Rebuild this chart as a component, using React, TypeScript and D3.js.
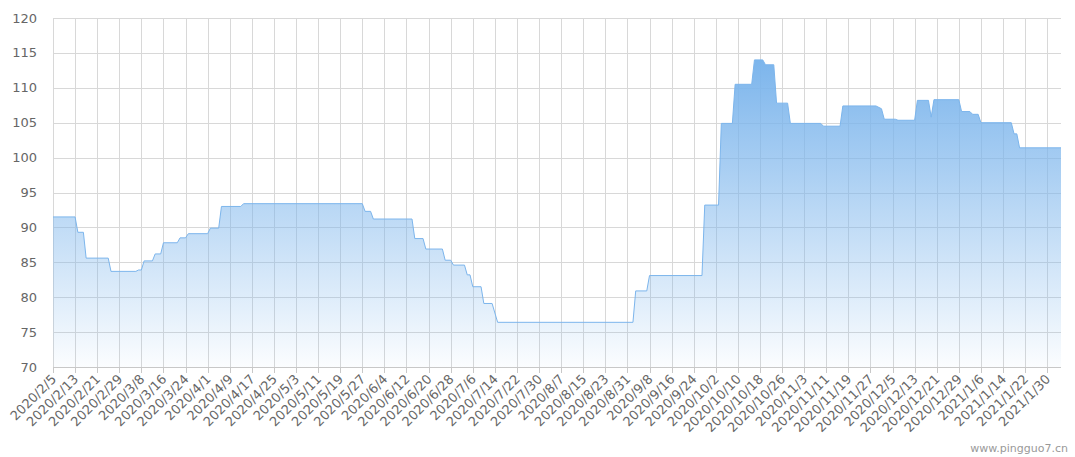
import * as d3 from "d3";
import { useEffect, useRef } from "react";

// change points of the daily price series (value holds between consecutive points)
const DATES = [
  "2020-02-05", "2020-02-13", "2020-02-14", "2020-02-16", "2020-02-17", "2020-02-25",
  "2020-02-26", "2020-03-06", "2020-03-07", "2020-03-08", "2020-03-09", "2020-03-12",
  "2020-03-13", "2020-03-15", "2020-03-16", "2020-03-21", "2020-03-22", "2020-03-24",
  "2020-03-25", "2020-04-01", "2020-04-02", "2020-04-05", "2020-04-06", "2020-04-13",
  "2020-04-14", "2020-05-27", "2020-05-28", "2020-05-30", "2020-05-31", "2020-06-14",
  "2020-06-15", "2020-06-18", "2020-06-19", "2020-06-25", "2020-06-26", "2020-06-28",
  "2020-06-29", "2020-07-03", "2020-07-04", "2020-07-05", "2020-07-06", "2020-07-09",
  "2020-07-10", "2020-07-13", "2020-07-15", "2020-09-02", "2020-09-03", "2020-09-07",
  "2020-09-08", "2020-09-27", "2020-09-28", "2020-10-03", "2020-10-04", "2020-10-08",
  "2020-10-09", "2020-10-15", "2020-10-16", "2020-10-19", "2020-10-20", "2020-10-23",
  "2020-10-24", "2020-10-28", "2020-10-29", "2020-11-09", "2020-11-10", "2020-11-16",
  "2020-11-17", "2020-11-29", "2020-12-01", "2020-12-02", "2020-12-06", "2020-12-07",
  "2020-12-13", "2020-12-14", "2020-12-18", "2020-12-19", "2020-12-20", "2020-12-29",
  "2020-12-30", "2021-01-02", "2021-01-03", "2021-01-05", "2021-01-06", "2021-01-17",
  "2021-01-18", "2021-01-19", "2021-01-20", "2021-02-04",
];
const PRICES = [
  91.5, 91.5, 89.3, 89.3, 85.6, 85.6,
  83.7, 83.7, 83.9, 83.9, 85.2, 85.2,
  86.2, 86.2, 87.8, 87.8, 88.5, 88.5,
  89.1, 89.1, 89.9, 89.9, 93.0, 93.0,
  93.4, 93.4, 92.3, 92.3, 91.2, 91.2,
  88.4, 88.4, 86.9, 86.9, 85.3, 85.3,
  84.6, 84.6, 83.2, 83.2, 81.5, 81.5,
  79.1, 79.1, 76.4, 76.4, 80.9, 80.9,
  83.1, 83.1, 93.2, 93.2, 104.9, 104.9,
  110.5, 110.5, 114.0, 114.0, 113.3, 113.3,
  107.8, 107.8, 104.9, 104.9, 104.5, 104.5,
  107.4, 107.4, 107.0, 105.5, 105.5, 105.35,
  105.35, 108.2, 108.2, 105.8, 108.3, 108.3,
  106.6, 106.6, 106.2, 106.2, 105.0, 105.0,
  103.4, 103.4, 101.4, 101.4,
];

const Y_TICKS = [70, 75, 80, 85, 90, 95, 100, 105, 110, 115, 120];
const X_TICK_LABELS = [
  "2020/2/5", "2020/2/13", "2020/2/21", "2020/2/29", "2020/3/8", "2020/3/16",
  "2020/3/24", "2020/4/1", "2020/4/9", "2020/4/17", "2020/4/25", "2020/5/3",
  "2020/5/11", "2020/5/19", "2020/5/27", "2020/6/4", "2020/6/12", "2020/6/20",
  "2020/6/28", "2020/7/6", "2020/7/14", "2020/7/22", "2020/7/30", "2020/8/7",
  "2020/8/15", "2020/8/23", "2020/8/31", "2020/9/8", "2020/9/16", "2020/9/24",
  "2020/10/2", "2020/10/10", "2020/10/18", "2020/10/26", "2020/11/3", "2020/11/11",
  "2020/11/19", "2020/11/27", "2020/12/5", "2020/12/13", "2020/12/21", "2020/12/29",
  "2021/1/6", "2021/1/14", "2021/1/22", "2021/1/30",
];

const W = 1075;
const H = 457;
const FONT = "'DejaVu Sans', Verdana, sans-serif";

export default function App() {
  const svgRef = useRef<SVGSVGElement>(null);

  useEffect(() => {
    document.body.style.margin = "0";
    const svg = d3.select(svgRef.current);
    svg.selectAll("*").remove();

    const margin = { top: 18, right: 14, bottom: 90, left: 53 };
    const parse = d3.utcParse("%Y-%m-%d");
    const parseTick = d3.utcParse("%Y/%m/%d");
    const data = DATES.map((d, i) => ({ date: parse(d) as Date, value: PRICES[i] }));
    const ticks = X_TICK_LABELS.map((t) => ({ label: t, date: parseTick(t) as Date }));

    const x = d3
      .scaleUtc()
      .domain([data[0].date, data[data.length - 1].date])
      .range([margin.left, W - margin.right]);
    const y = d3.scaleLinear().domain([70, 120]).range([H - margin.bottom, margin.top]);
    const y0 = y(70);

    const grad = svg
      .append("defs")
      .append("linearGradient")
      .attr("id", "areaFill")
      .attr("x1", 0)
      .attr("y1", 0)
      .attr("x2", 0)
      .attr("y2", 1);
    grad.append("stop").attr("offset", 0).attr("stop-color", "#7cb5ec").attr("stop-opacity", 1);
    grad.append("stop").attr("offset", 1).attr("stop-color", "#7cb5ec").attr("stop-opacity", 0.03);

    // grid
    svg
      .append("g")
      .selectAll("line")
      .data(Y_TICKS)
      .join("line")
      .attr("x1", margin.left)
      .attr("x2", W - margin.right)
      .attr("y1", (d) => Math.round(y(d)) + 0.5)
      .attr("y2", (d) => Math.round(y(d)) + 0.5)
      .attr("stroke", "#d8d8d8");
    svg
      .append("g")
      .selectAll("line")
      .data(ticks)
      .join("line")
      .attr("x1", (d) => Math.round(x(d.date)) + 0.5)
      .attr("x2", (d) => Math.round(x(d.date)) + 0.5)
      .attr("y1", margin.top)
      .attr("y2", y0)
      .attr("stroke", "#d8d8d8");

    const area = d3
      .area<{ date: Date; value: number }>()
      .x((d) => x(d.date))
      .y0(y0)
      .y1((d) => y(d.value));
    const line = d3
      .line<{ date: Date; value: number }>()
      .x((d) => x(d.date))
      .y((d) => y(d.value));

    svg.append("path").datum(data).attr("fill", "url(#areaFill)").attr("d", area);
    svg
      .append("path")
      .datum(data)
      .attr("fill", "none")
      .attr("stroke", "#7cb5ec")
      .attr("stroke-width", 1)
      .attr("d", line);

    // x axis
    svg
      .append("line")
      .attr("x1", margin.left)
      .attr("x2", W - margin.right)
      .attr("y1", Math.round(y0) + 0.5)
      .attr("y2", Math.round(y0) + 0.5)
      .attr("stroke", "#c8c8c8");
    const xt = svg.append("g").selectAll("g").data(ticks).join("g");
    xt.append("line")
      .attr("x1", (d) => Math.round(x(d.date)) + 0.5)
      .attr("x2", (d) => Math.round(x(d.date)) + 0.5)
      .attr("y1", y0)
      .attr("y2", y0 + 6)
      .attr("stroke", "#c8c8c8");
    xt.append("text")
      .attr("transform", (d) => `translate(${x(d.date) + 4},${y0 + 13}) rotate(-45)`)
      .attr("text-anchor", "end")
      .attr("fill", "#666")
      .attr("font-size", 13)
      .attr("font-family", FONT)
      .text((d) => d.label);

    // y labels
    svg
      .append("g")
      .selectAll("text")
      .data(Y_TICKS)
      .join("text")
      .attr("x", 37)
      .attr("y", (d) => y(d))
      .attr("dy", "0.35em")
      .attr("text-anchor", "end")
      .attr("fill", "#666")
      .attr("font-size", 13)
      .attr("font-family", FONT)
      .text((d) => d);

    svg
      .append("text")
      .attr("x", W - 7)
      .attr("y", H - 5)
      .attr("text-anchor", "end")
      .attr("fill", "#999")
      .attr("font-size", 11)
      .attr("font-family", FONT)
      .text("www.pingguo7.cn");
  }, []);

  return <svg ref={svgRef} width={W} height={H} style={{ display: "block", background: "#fff" }} />;
}
